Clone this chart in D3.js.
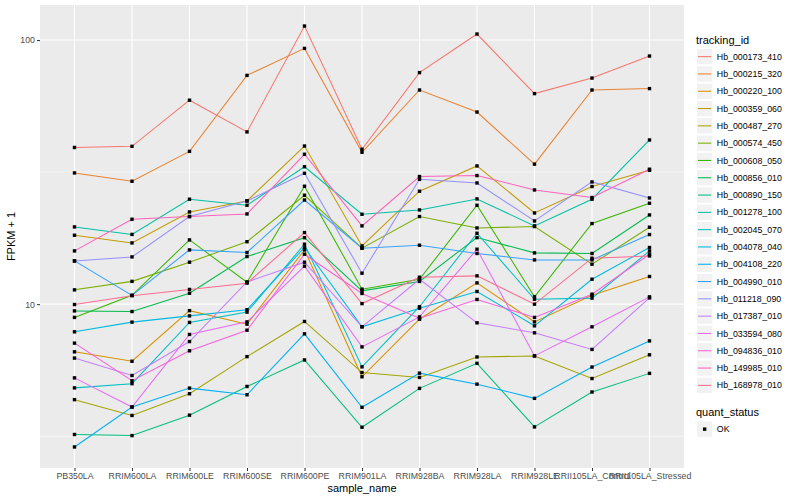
<!DOCTYPE html>
<html>
<head>
<meta charset="utf-8">
<script src="https://cdn.jsdelivr.net/npm/d3@7"></script>
<style>
  body { margin: 0; background: #fff; }
  svg { font-family: "Liberation Sans", Arial, sans-serif; }
</style>
</head>
<body>
<svg id="chart" width="800" height="500"></svg>
<script>
// ===== DATA (FPKM + 1 per sample) =====
const samples = ["PB350LA","RRIM600LA","RRIM600LE","RRIM600SE","RRIM600PE","RRIM901LA",
                 "RRIM928BA","RRIM928LA","RRIM928LE","RRII105LA_Control","RRII105LA_Stressed"];

const trackingIds = ["Hb_000173_410","Hb_000215_320","Hb_000220_100","Hb_000359_060","Hb_000487_270",
                     "Hb_000574_450","Hb_000608_050","Hb_000856_010","Hb_000890_150","Hb_001278_100",
                     "Hb_002045_070","Hb_004078_040","Hb_004108_220","Hb_004990_010","Hb_011218_090",
                     "Hb_017387_010","Hb_033594_080","Hb_094836_010","Hb_149985_010","Hb_168978_010"];

const hb000173_410 = [39.2, 39.6, 59.2, 44.9, 113, 38.6, 75.3, 105.4, 62.7, 71.8, 87.0];
const hb000215_320 = [31.4, 29.2, 37.9, 73.5, 93.0, 37.6, 64.7, 53.4, 33.9, 64.7, 65.5];
const hb000220_100 = [6.60, 6.08, 9.45, 8.40, 16.05, 5.31, 8.77, 12.04, 8.57, 10.8, 12.73];
const hb000359_060 = [18.24, 17.06, 22.35, 24.6, 39.7, 16.62, 26.77, 33.38, 22.15, 27.89, 32.14];
const hb000487_270 = [4.35, 3.79, 4.58, 6.33, 8.60, 5.51, 5.28, 6.31, 6.37, 5.23, 6.43];
const hb000574_450 = [11.33, 12.2, 14.42, 17.24, 25.85, 16.29, 21.47, 19.44, 19.68, 14.17, 19.56];
const hb000608_050 = [8.91, 10.8, 17.51, 12.11, 27.96, 11.4, 12.43, 23.69, 10.66, 20.2, 24.11];
const hb000856_010 = [9.43, 9.38, 11.0, 15.15, 17.85, 11.23, 12.19, 17.87, 15.64, 15.56, 21.77];
const hb000890_150 = [3.21, 3.18, 3.80, 4.88, 6.15, 3.42, 4.80, 5.97, 3.43, 4.65, 5.47];
const hb001278_100 = [19.61, 18.37, 24.97, 23.69, 33.14, 21.9, 22.74, 25.03, 19.79, 24.97, 41.85];
const hb002045_070 = [4.82, 5.00, 8.53, 9.33, 16.87, 5.79, 9.78, 18.56, 10.44, 10.54, 15.91];
const hb004078_040 = [7.86, 8.55, 9.03, 9.53, 16.39, 8.21, 9.66, 11.17, 8.28, 12.43, 16.39];
const hb004108_220 = [2.88, 4.08, 4.81, 4.54, 7.72, 4.07, 5.48, 4.98, 4.40, 5.78, 7.26];
const hb004990_010 = [14.58, 10.8, 16.05, 15.69, 24.8, 16.29, 16.72, 15.56, 14.71, 14.71, 18.35];
const hb011218_090 = [14.58, 15.1, 21.47, 24.6, 31.3, 13.1, 29.7, 28.77, 20.66, 29.03, 25.25];
const hb017387_010 = [6.25, 5.37, 7.22, 12.14, 14.42, 8.21, 12.43, 8.50, 7.79, 6.74, 10.56];
const hb033594_080 = [5.26, 4.08, 7.68, 8.57, 13.93, 6.89, 8.95, 16.15, 6.37, 8.21, 10.66];
const hb094836_010 = [7.12, 5.13, 6.66, 7.97, 15.46, 10.98, 8.85, 10.42, 8.91, 10.91, 15.46];
const hb149985_010 = [15.91, 20.97, 21.47, 21.96, 36.95, 19.79, 30.43, 30.69, 27.07, 25.34, 32.43];
const hb168978_010 = [9.97, 10.77, 11.37, 12.01, 18.67, 10.05, 12.65, 12.8, 10.0, 14.93, 15.23];

const seriesValues = [hb000173_410, hb000215_320, hb000220_100, hb000359_060, hb000487_270,
                      hb000574_450, hb000608_050, hb000856_010, hb000890_150, hb001278_100,
                      hb002045_070, hb004078_040, hb004108_220, hb004990_010, hb011218_090,
                      hb017387_010, hb033594_080, hb094836_010, hb149985_010, hb168978_010];

const yMajor = [10, 100];
const yMinor = [Math.sqrt(10), Math.sqrt(1000)];

// ggplot default hue palette for 20 groups
const palette = ["#F8766D","#EA8331","#D89000","#C09B00","#A3A500","#7CAE00","#39B600","#00BB4E",
                 "#00BF7D","#00C1A3","#00BFC4","#00BAE0","#00B0F6","#35A2FF","#9590FF","#C77CFF",
                 "#E76BF3","#FA62DB","#FF62BC","#FF6C91"];

// ===== LAYOUT =====
const svg = d3.select("#chart");
const panel = {left: 40, right: 684, top: 5, bottom: 468};

const series = trackingIds.map((id, i) => ({
  id, color: palette[i],
  values: seriesValues[i].map((v, j) => ({sample: samples[j], value: v}))
}));

const allVals = seriesValues.flat();
const lmin = Math.log10(d3.min(allVals)), lmax = Math.log10(d3.max(allVals));
const pad = (lmax - lmin) * 0.05;

const x = d3.scalePoint().domain(samples).range([panel.left, panel.right]).padding(0.6);
const y = d3.scaleLog().domain([Math.pow(10, lmin - pad), Math.pow(10, lmax + pad)])
            .range([panel.bottom, panel.top]);

// panel background + grid
svg.append("rect").attr("x", panel.left).attr("y", panel.top)
  .attr("width", panel.right - panel.left).attr("height", panel.bottom - panel.top)
  .attr("fill", "#ebebeb");

const grid = svg.append("g").attr("stroke", "#fff");
grid.selectAll(".ymin").data(yMinor).join("line")
  .attr("x1", panel.left).attr("x2", panel.right)
  .attr("y1", d => y(d)).attr("y2", d => y(d)).attr("stroke-width", 0.55);
grid.selectAll(".ymaj").data(yMajor).join("line")
  .attr("x1", panel.left).attr("x2", panel.right)
  .attr("y1", d => y(d)).attr("y2", d => y(d)).attr("stroke-width", 1.1);
grid.selectAll(".xmaj").data(samples).join("line")
  .attr("x1", d => x(d)).attr("x2", d => x(d))
  .attr("y1", panel.top).attr("y2", panel.bottom).attr("stroke-width", 1.1);

// lines
const line = d3.line().x(d => x(d.sample)).y(d => y(d.value));
svg.append("g").selectAll("path").data(series).join("path")
  .attr("d", d => line(d.values))
  .attr("fill", "none").attr("stroke", d => d.color).attr("stroke-width", 1.05);

// points
const pts = series.flatMap(s => s.values);
svg.append("g").selectAll("rect").data(pts).join("rect")
  .attr("x", d => x(d.sample) - 1.7).attr("y", d => y(d.value) - 1.7)
  .attr("width", 3.4).attr("height", 3.4).attr("fill", "#000");

// axes
const yAxis = svg.append("g").attr("transform", `translate(${panel.left},0)`)
  .call(d3.axisLeft(y).tickValues(yMajor).tickFormat(d3.format("d")).tickSize(3).tickPadding(2));
const xAxis = svg.append("g").attr("transform", `translate(0,${panel.bottom})`)
  .call(d3.axisBottom(x).tickSize(3).tickPadding(2));
[xAxis, yAxis].forEach(g => {
  g.select(".domain").remove();
  g.selectAll(".tick line").attr("stroke", "#333").attr("stroke-width", 1.05);
  g.selectAll(".tick text").attr("fill", "#4d4d4d").attr("font-size", "8.8px")
    .attr("font-family", "Liberation Sans, Arial, sans-serif");
});

svg.append("text").attr("x", (panel.left + panel.right) / 2).attr("y", 492)
  .attr("text-anchor", "middle").attr("font-size", "11px").text("sample_name");
svg.append("text").attr("transform", `translate(15,${(panel.top + panel.bottom) / 2}) rotate(-90)`)
  .attr("text-anchor", "middle").attr("font-size", "11px").text("FPKM + 1");

// legend: tracking_id
const lg = svg.append("g").attr("transform", "translate(696,0)");
lg.append("text").attr("x", 0).attr("y", 44).attr("font-size", "11px").text("tracking_id");
const keyH = 17.3, key0 = 48;
const keys = lg.selectAll(".key").data(series).join("g")
  .attr("transform", (d, i) => `translate(0,${key0 + i * keyH})`);
keys.append("rect").attr("x", 0.5).attr("y", 0.5).attr("width", keyH - 1).attr("height", keyH - 1)
  .attr("fill", "#f2f2f2").attr("stroke", "#fff");
keys.append("line").attr("x1", 2).attr("x2", keyH - 2).attr("y1", keyH / 2).attr("y2", keyH / 2)
  .attr("stroke", d => d.color).attr("stroke-width", 1.05);
keys.append("text").attr("x", keyH + 3.5).attr("y", keyH / 2 + 3.1).attr("font-size", "8.8px")
  .text(d => d.id);

// legend: quant_status
lg.append("text").attr("x", 0).attr("y", 416).attr("font-size", "11px").text("quant_status");
const qk = lg.append("g").attr("transform", `translate(0,${420.5})`);
qk.append("rect").attr("x", 0.5).attr("y", 0.5).attr("width", keyH - 1).attr("height", keyH - 1)
  .attr("fill", "#f2f2f2").attr("stroke", "#fff");
qk.append("rect").attr("x", keyH / 2 - 1.7).attr("y", keyH / 2 - 1.7).attr("width", 3.4).attr("height", 3.4)
  .attr("fill", "#000");
qk.append("text").attr("x", keyH + 3.5).attr("y", keyH / 2 + 3.1).attr("font-size", "8.8px").text("OK");
</script>
</body>
</html>
